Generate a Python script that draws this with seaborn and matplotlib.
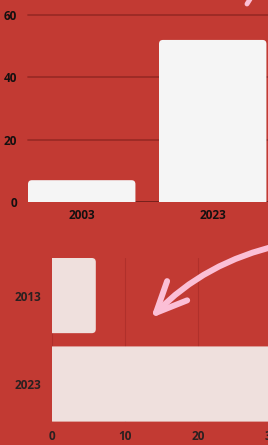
import matplotlib
matplotlib.use("Agg")
import matplotlib.pyplot as plt
import seaborn as sns
import pandas as pd
from matplotlib.patches import FancyBboxPatch, FancyArrowPatch

# data
top_years = ["2003", "2023"]
top_values = [7, 52]
top_ticks = [0, 20, 40, 60]

bottom_years = ["2013", "2023"]
bottom_values = [6, 45]
bottom_ticks = [0, 10, 20, 30, 40, 50]

BG = "#C23A33"
W, H = 268, 445

sns.set_theme(style="white")
plt.rcParams["font.family"] = ["Open Sans", "DejaVu Sans"]
plt.rcParams["font.weight"] = "bold"


def fx(px):
    return px / W


def fy(px):
    return 1 - px / H


def round_bars(ax, r, aspect, ext, color, horizontal=False):
    """ replace bars by rounded ones, the base side is pushed out of the axes """
    for p in list(ax.patches):
        x, y, w, h = p.get_x(), p.get_y(), p.get_width(), p.get_height()
        p.remove()
        if horizontal:
            box = (x - ext, y), w + ext, h
        else:
            box = (x, y - ext), w, h + ext
        fb = FancyBboxPatch(box[0], box[1], box[2],
                            boxstyle=f"round,pad=0,rounding_size={r}",
                            mutation_aspect=aspect, fc=color, ec="none",
                            zorder=3)
        ax.add_patch(fb)


fig = plt.figure(figsize=(W / 100, H / 100), dpi=100, facecolor=BG)

# upper chart
ax1 = fig.add_axes([fx(28), fy(202), fx(262), (202 - 15) / H])
ax1.set_facecolor(BG)
df_top = pd.DataFrame({"year": top_years, "value": top_values})
sns.barplot(data=df_top, x="year", y="value", ax=ax1, width=0.82, color="#F5F5F5")
round_bars(ax1, r=0.03, aspect=42, ext=3, color="#F5F5F5")
ax1.set_xlim(-0.41, 1.59)
ax1.set_ylim(0, 60)
ax1.set_yticks(top_ticks)
for t in top_ticks[1:]:
    ax1.axhline(t, color="#9B2A25", lw=1.3, zorder=1, clip_on=False)
ax1.axhline(0, color="#6A1C18", lw=1.2, zorder=1)
for s in ax1.spines.values():
    s.set_visible(False)
ax1.set_xlabel("")
ax1.set_ylabel("")
ax1.tick_params(axis="y", length=0, pad=8, labelsize=8.5, labelcolor="#141010")
ax1.tick_params(axis="x", length=0, pad=5, labelsize=8.5, labelcolor="#141010")

# lower chart
ax2 = fig.add_axes([fx(52), fy(421.6), fx(365), (421.6 - 258) / H])
ax2.set_facecolor(BG)
df_bot = pd.DataFrame({"year": bottom_years, "value": bottom_values})
sns.barplot(data=df_bot, x="value", y="year", orient="h", ax=ax2, width=0.85,
            color="#EFE0DD")
round_bars(ax2, r=0.55, aspect=0.0825, ext=1, color="#EFE0DD", horizontal=True)
ax2.set_xlim(0, 50)
ax2.set_ylim(1.425, -0.425)
ax2.set_xticks(bottom_ticks)
ax2.xaxis.grid(True, color="#B0302B", lw=0.8)
ax2.set_axisbelow(True)
for s in ax2.spines.values():
    s.set_visible(False)
ax2.set_xlabel("")
ax2.set_ylabel("")
ax2.tick_params(axis="y", length=0, pad=8, labelsize=8.5, labelcolor="#2A2020")
ax2.tick_params(axis="x", length=0, pad=6, labelsize=8.5, labelcolor="#2A2020")

# pink hand-drawn arrows
arrow = FancyArrowPatch((fx(280), fy(245)), (fx(151), fy(318)),
                        transform=fig.transFigure,
                        connectionstyle="arc3,rad=0.15",
                        arrowstyle="->,head_length=1.1,head_width=0.5",
                        shrinkA=0, shrinkB=0,
                        mutation_scale=20, color="#FBBFD6", lw=4.3,
                        capstyle="round", joinstyle="round", zorder=10)
fig.add_artist(arrow)
fig.add_artist(plt.Line2D([fx(247), fx(252)], [fy(4), fy(-4)],
                          transform=fig.transFigure, color="#FBBFD6", lw=3.5,
                          solid_capstyle="round"))

fig.savefig("out.png", dpi=100, facecolor=BG)
